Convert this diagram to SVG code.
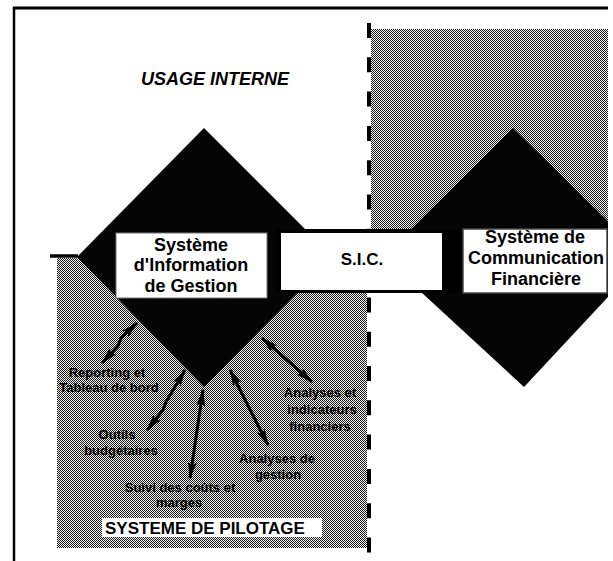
<svg xmlns="http://www.w3.org/2000/svg" width="613" height="561" viewBox="0 0 613 561">
<style>
.t{font-family:"Liberation Sans",Arial,sans-serif;font-weight:bold;fill:#000}
.box{font-size:18px;text-anchor:middle}
.lbl{font-size:13px;text-anchor:middle}
.dia{fill:#050505}
.arr{fill:none;stroke:#000;stroke-width:3;marker-start:url(#ah);marker-end:url(#ah)}
</style>
<defs>
<pattern id="dither" width="2" height="2" patternUnits="userSpaceOnUse">
<rect width="2" height="2" fill="#f4f4f4"/>
<rect x="0" y="0" width="1" height="1" fill="#1a1a1a"/>
<rect x="1" y="1" width="1" height="1" fill="#1a1a1a"/>
</pattern>
<marker id="ah" viewBox="0 0 17 9" refX="16" refY="4.5" markerWidth="17" markerHeight="9" markerUnits="userSpaceOnUse" orient="auto-start-reverse">
<path d="M0,0 L17,4.5 L0,9 L3,4.5 z" fill="#000"/>
</marker>
</defs>
<rect width="613" height="561" fill="#fff"/>
<g id="frame">
<line x1="13" y1="8" x2="608" y2="8" stroke="#000" stroke-width="3"/>
<line x1="14" y1="7" x2="14" y2="561" stroke="#000" stroke-width="2.5"/>
</g>
<g id="zones">
<rect x="371" y="29" width="237" height="200" fill="url(#dither)"/>
<rect x="57" y="258" width="310" height="290" fill="url(#dither)"/>
<line x1="369" y1="23" x2="369" y2="561" stroke="#000" stroke-width="4" stroke-dasharray="15 19.3"/>
</g>
<g id="usage-interne">
<text class="t" x="141" y="85" font-size="18" font-style="italic">USAGE INTERNE</text>
</g>
<g id="sig">
<line x1="50" y1="256" x2="78" y2="256" stroke="#000" stroke-width="3.5"/>
<polygon class="dia" points="204,128 333,257 204,387 77,257"/>
</g>
<g id="scf">
<polygon class="dia" points="513,128 608,221 608,297 524,387 383,257"/>
</g>
<g id="sic">
<rect x="276" y="229" width="190" height="64" fill="#000"/>
<rect x="281" y="233" width="161" height="57" fill="#fff"/>
<text class="t" x="362" y="265" font-size="17" text-anchor="middle">S.I.C.</text>
</g>
<g id="sig-box">
<rect x="116" y="233" width="151" height="65" fill="#fff" stroke="#777" stroke-width="1"/>
<text class="t box" x="191" y="251">Système</text>
<text class="t box" x="191" y="271">d'Information</text>
<text class="t box" x="191" y="292">de Gestion</text>
</g>
<g id="scf-box">
<rect x="463" y="229" width="144" height="64" fill="#fff" stroke="#444" stroke-width="1.5"/>
<text class="t box" x="535" y="243">Système de</text>
<text class="t box" x="536" y="264">Communication</text>
<text class="t box" x="536" y="285">Financière</text>
</g>
<g id="connectors">
<path class="arr" d="M137,323 L121,338 L118,346 L102,363"/>
<path class="arr" d="M185,370 L166,402 L163,410 L147,430"/>
<path class="arr" d="M203,390 L190,478"/>
<path class="arr" d="M230,370 L268,445"/>
<path class="arr" d="M262,338 L312,382"/>
</g>
<g id="lbl-reporting">
<text class="t lbl" x="107" y="377">Reporting et</text>
<text class="t lbl" x="109" y="392">Tableau de bord</text>
</g>
<g id="lbl-outils">
<text class="t lbl" x="117" y="439">Outils</text>
<text class="t lbl" x="121" y="455">budgétaires</text>
</g>
<g id="lbl-suivi">
<text class="t lbl" x="180" y="492">Suivi des coûts et</text>
<text class="t lbl" x="179" y="507">marges</text>
</g>
<g id="lbl-gestion">
<text class="t lbl" x="277" y="463">Analyses de</text>
<text class="t lbl" x="278" y="479">gestion</text>
</g>
<g id="lbl-financiers">
<text class="t lbl" x="320" y="397">Analyses et</text>
<text class="t lbl" x="322" y="414">indicateurs</text>
<text class="t lbl" x="320" y="431">financiers</text>
</g>
<g id="pilotage">
<rect x="102" y="518" width="220" height="19" fill="#fff"/>
<text class="t" x="105" y="534" font-size="17">SYSTEME DE PILOTAGE</text>
</g>
</svg>
